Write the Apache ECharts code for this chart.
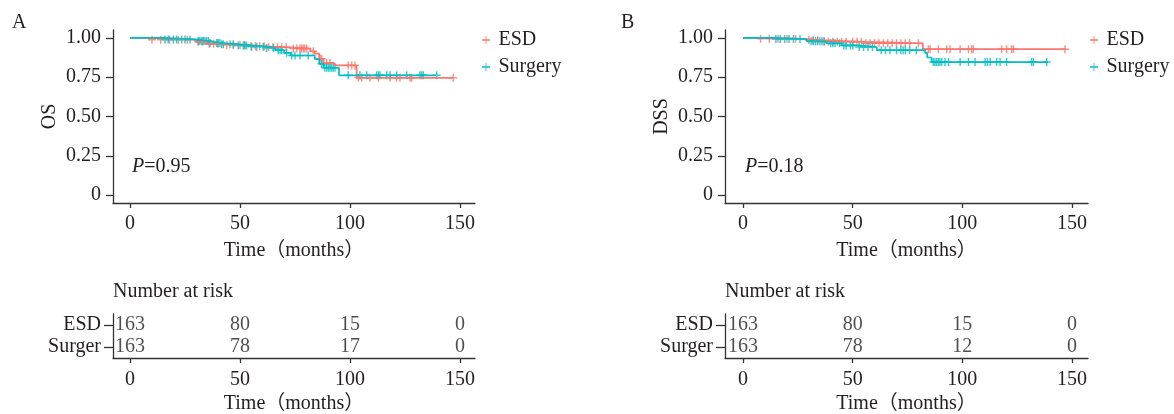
<!DOCTYPE html>
<html>
<head>
<meta charset="utf-8">
<script src="https://cdn.jsdelivr.net/npm/echarts@6.0.0/dist/echarts.min.js"></script>
<style>
  html, body { margin: 0; padding: 0; background: #fff; }
  #chart { width: 1174px; height: 414px; }
</style>
</head>
<body>
<div id="chart"></div>
<script>
// time axis ticks (months)
const timeTicks = [0, 50, 100, 150];
const survTicks = [0, 0.25, 0.5, 0.75, 1];

// A: overall survival, [time, survival] at each event
const osEsdSteps = [[0, 1], [7, 0.988], [30, 0.975], [35, 0.962], [43, 0.954], [53, 0.946], [62, 0.94], [72, 0.932], [82, 0.915], [84, 0.9], [86, 0.867], [88, 0.84], [93, 0.825], [103, 0.746], [147, 0.746]];
const osEsdCensor = [10, 14, 18, 22, 26, 31, 33, 36, 38, 40, 44, 47, 50, 52, 55, 57, 59, 61, 63, 65, 67, 69, 71, 74.2, 75.8, 77.3, 78, 78.8, 79.5, 80.3, 83.3, 86.4, 87.1, 89.4, 90.9, 99.2, 100.8, 102.3, 103.8, 105.3, 109.1, 112.9, 118.2, 121.2, 122.7, 127.3, 128, 146.9];
const osSurgSteps = [[0, 1], [15, 0.99], [30, 0.98], [36, 0.968], [41, 0.96], [48, 0.952], [55, 0.944], [62, 0.935], [66, 0.922], [70, 0.905], [73, 0.888], [84, 0.865], [86, 0.835], [88, 0.81], [95, 0.762], [139, 0.762]];
const osSurgCensor = [15.9, 17.4, 19.7, 21.2, 23.5, 25, 27.3, 31.1, 31.8, 32.6, 33.3, 34.1, 34.8, 35.6, 36.4, 39.4, 40.1, 40.9, 41.7, 42.4, 45.5, 47, 49.2, 51.5, 52.3, 53, 55.3, 57.6, 60.6, 62.1, 65.2, 67.4, 68.2, 68.9, 71.2, 73.5, 75, 77.3, 81, 87.1, 87.9, 88.6, 89.4, 90.2, 90.9, 91.7, 92.4, 93.2, 99.2, 104.5, 107.6, 112.1, 112.9, 113.6, 116.7, 118.2, 121.2, 125.8, 131.8, 132.6, 133.3, 139.4];

// B: disease-specific survival
const dssEsdSteps = [[0, 1], [5, 0.994], [28, 0.985], [35, 0.975], [55, 0.965], [82, 0.928], [147, 0.928]];
const dssEsdCensor = [8, 12, 16, 20, 24, 30, 32, 34, 37, 39, 41, 43, 45, 47, 50, 52, 54, 56, 58, 60, 62, 64, 66, 68, 70, 72, 74, 76, 80, 84.5, 85.3, 89.1, 92.9, 94.4, 99, 102.8, 104.3, 105, 117.9, 120.2, 122.5, 123.3, 146.8];
const dssSurgSteps = [[0, 1], [14, 0.992], [29, 0.978], [38, 0.965], [45, 0.952], [52, 0.942], [61, 0.922], [83, 0.905], [84, 0.875], [86, 0.846], [139, 0.846]];
const dssSurgCensor = [15, 17, 19, 21, 23, 26, 31, 32, 33, 34, 35, 36, 37, 40, 41, 42, 44, 46, 47, 49, 50, 53, 55, 57, 59, 63, 65, 67, 70, 72, 73, 74, 76, 79, 86.8, 87.5, 88.3, 89.1, 89.8, 90.6, 92.1, 93.7, 99, 102.8, 105.8, 110.4, 111.4, 112.7, 115.7, 117.2, 120.2, 131.6, 132.4, 138.5];

// number at risk
const riskTimes = [0, 50, 100, 150];
const riskGroups = ['Surger', 'ESD'];
const osRiskEsd = [163, 80, 15, 0];
const osRiskSurg = [163, 78, 17, 0];
const dssRiskEsd = [163, 80, 15, 0];
const dssRiskSurg = [163, 78, 12, 0];

const red = '#F8766D';
const teal = '#00BFC4';
const ink = '#231f20';
const font = "'Liberation Serif', 'Noto Sans CJK SC', serif";
const fs = 20;
const plus = 'path://M-0.18,-1L0.18,-1L0.18,-0.18L1,-0.18L1,0.18L0.18,0.18L0.18,1L-0.18,1L-0.18,0.18L-1,0.18L-1,-0.18L-0.18,-0.18Z';
const legendIcon = 'path://M0,0.41L0.45,0.41L0.45,0L0.55,0L0.55,0.41L1,0.41L1,0.59L0.55,0.59L0.55,1L0.45,1L0.45,0.59L0,0.59Z';

function survAt (steps, t) {
  let s = steps[0][1];
  for (let i = 0; i < steps.length; i++) {
    if (steps[i][0] <= t) s = steps[i][1];
  }
  return s;
}

const axisLine = { show: true, onZero: false, lineStyle: { color: '#333', width: 1.3 } };
const axisTickX = { show: true, length: 5, customValues: timeTicks, lineStyle: { color: '#333', width: 1.3 } };

function timeAxis (grid, min, max, gap, margin) {
  return {
    type: 'value', gridIndex: grid, min: min, max: max,
    name: 'Time（months）', nameLocation: 'middle', nameGap: gap,
    nameTextStyle: { fontFamily: font, fontSize: fs, color: ink },
    axisLine: axisLine, axisTick: axisTickX, splitLine: { show: false },
    axisLabel: { customValues: timeTicks, margin: margin, fontFamily: font, fontSize: fs, color: ink }
  };
}

function survAxis (grid, name) {
  return {
    type: 'value', gridIndex: grid, min: -0.05, max: 1.05,
    name: name, nameLocation: 'middle', nameGap: 53,
    nameTextStyle: { fontFamily: font, fontSize: fs, color: ink },
    axisLine: axisLine, splitLine: { show: false },
    axisTick: { show: true, length: 7, customValues: survTicks, lineStyle: { color: '#333', width: 1.3 } },
    axisLabel: {
      customValues: survTicks, margin: 12, fontFamily: font, fontSize: fs, color: ink,
      formatter: v => (v === 0 ? '0' : v.toFixed(2))
    }
  };
}

function riskAxis (grid) {
  return {
    type: 'category', gridIndex: grid, data: riskGroups,
    axisLine: axisLine,
    axisTick: { show: true, length: 9, alignWithLabel: true, interval: 0, lineStyle: { color: '#333', width: 1.3 } },
    axisLabel: { interval: 0, margin: 12, fontFamily: font, fontSize: fs, color: ink }
  };
}

function kmSeries (name, color, steps, censor, axis) {
  return [
    {
      name: name, type: 'line', step: 'end', xAxisIndex: axis, yAxisIndex: axis,
      data: steps, showSymbol: false, silent: true,
      lineStyle: { color: color, width: 1.7 }, itemStyle: { color: color }
    },
    {
      name: name, type: 'scatter', xAxisIndex: axis, yAxisIndex: axis,
      data: censor.map(t => [t, survAt(steps, t)]),
      symbol: plus, symbolSize: [8, 8], silent: true,
      itemStyle: { color: color }
    }
  ];
}

function riskSeries (axis, esd, surg) {
  const data = [];
  riskTimes.forEach((t, i) => {
    data.push([t, 'ESD', esd[i]]);
    data.push([t, 'Surger', surg[i]]);
  });
  return {
    type: 'scatter', xAxisIndex: axis, yAxisIndex: axis, data: data,
    symbolSize: 1, itemStyle: { color: 'rgba(0,0,0,0)' }, silent: true,
    label: { show: true, position: 'inside', formatter: p => String(p.value[2]), fontFamily: font, fontSize: fs, color: ink }
  };
}

function legendFor (left) {
  return {
    left: left, top: 25, orient: 'vertical', itemWidth: 15, itemHeight: 8, itemGap: 7,
    selectedMode: false,
    textStyle: { fontFamily: font, fontSize: fs, color: ink, lineHeight: 20 },
    data: [
      { name: 'ESD', icon: legendIcon, itemStyle: { color: red } },
      { name: 'Surgery', icon: legendIcon, itemStyle: { color: teal } }
    ]
  };
}

function txt (x, y, extra) {
  return {
    type: 'text', x: x, y: y,
    style: Object.assign({ fontFamily: font, fontSize: fs, fill: ink, verticalAlign: 'middle' }, extra)
  };
}

const italicP = { i: { fontStyle: 'italic', fontFamily: font, fontSize: fs, fill: ink } };

const chart = echarts.init(document.getElementById('chart'), null, { renderer: 'canvas' });
chart.setOption({
  animation: false,
  backgroundColor: '#fff',
  grid: [
    { left: 113, right: 699, top: 30, bottom: 211, outerBoundsMode: 'none' },
    { left: 725, right: 86, top: 30, bottom: 211, outerBoundsMode: 'none' },
    { left: 113, right: 699, top: 314, bottom: 56, outerBoundsMode: 'none' },
    { left: 725, right: 86, top: 314, bottom: 56, outerBoundsMode: 'none' }
  ],
  xAxis: [
    timeAxis(0, -7.7, 156.8, 38, 11),
    timeAxis(1, -8.2, 157.3, 38, 11),
    timeAxis(2, -7.7, 156.8, 36, 12),
    timeAxis(3, -8.2, 157.3, 36, 12)
  ],
  yAxis: [
    survAxis(0, 'OS'),
    survAxis(1, 'DSS'),
    riskAxis(2),
    riskAxis(3)
  ],
  legend: [legendFor(477), legendFor(1085)],
  graphic: [
    txt(12, 23, { text: 'A' }),
    txt(621, 23, { text: 'B' }),
    txt(132, 167, { text: '{i|P}=0.95', rich: italicP }),
    txt(745, 167, { text: '{i|P}=0.18', rich: italicP }),
    txt(113, 292, { text: 'Number at risk' }),
    txt(725, 292, { text: 'Number at risk' })
  ],
  series: [].concat(
    kmSeries('ESD', red, osEsdSteps, osEsdCensor, 0),
    kmSeries('Surgery', teal, osSurgSteps, osSurgCensor, 0),
    kmSeries('ESD', red, dssEsdSteps, dssEsdCensor, 1),
    kmSeries('Surgery', teal, dssSurgSteps, dssSurgCensor, 1),
    [riskSeries(2, osRiskEsd, osRiskSurg), riskSeries(3, dssRiskEsd, dssRiskSurg)]
  )
});
</script>
</body>
</html>
